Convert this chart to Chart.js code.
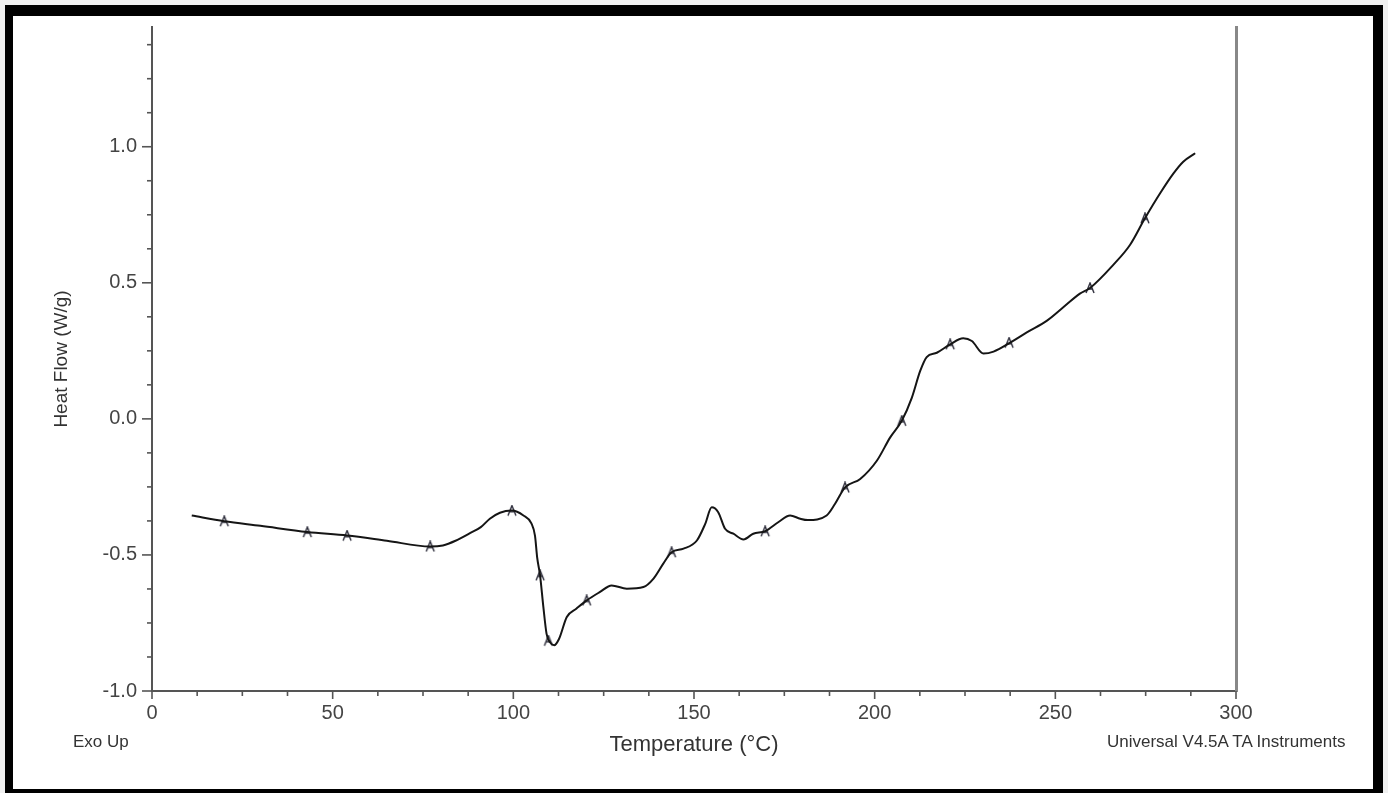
<!DOCTYPE html>
<html>
<head>
<meta charset="utf-8">
<title>DSC Heat Flow</title>
<script src="https://cdn.jsdelivr.net/npm/chart.js@4.4.0/dist/chart.umd.min.js"></script>
<style>
  html, body { margin: 0; padding: 0; background: #fff; }
  #wrap { position: relative; width: 1388px; height: 793px; overflow: hidden; background: #f0f0f0; }
  #frame { position: absolute; left: 5px; top: 5px; width: 1378px; height: 790px; box-sizing: border-box;
           border-style: solid; border-color: #000; border-width: 11px 10px 6px 8px; background: #fff; }
  #chart { position: absolute; left: 0; top: 0; }
  .note { position: absolute; font-family: "Liberation Sans", Arial, sans-serif; font-size: 17px;
          line-height: 17px; color: #333; white-space: nowrap; }
</style>
</head>
<body>
<div id="wrap">
  <div id="frame"></div>
  <canvas id="chart" width="1388" height="793"></canvas>
  <div class="note" style="left:73px; top:733px;">Exo Up</div>
  <div class="note" style="left:1107px; top:733px;">Universal V4.5A TA Instruments</div>
</div>
<script>
// heat flow curve
var temps = [11, 20, 30, 43, 54, 65, 77, 80.5, 84, 88, 91, 93.5, 96.3, 99.6, 102.8, 105, 106, 106.6, 107.4, 108.3,
  109.2, 110.2, 111.3, 112.6, 114.8, 117.5, 120.3, 124, 127.2, 131.4, 136, 138.8, 141.5, 143.8, 147.1, 150.8,
  153.1, 154.9, 156.7, 158.6, 160.9, 163.7, 166.4, 169.7, 173.3, 176.6, 179.4, 181.5, 186.7, 189, 191.8, 196,
  200.6, 204.3, 207.5, 210.3, 212.6, 214.4, 217.2, 220.9, 224.5, 226.9, 230.1, 232.9, 237.5, 242.1, 247.6,
  252.2, 256.8, 259.6, 266.1, 270.7, 274.8, 279, 282.7, 285.4, 288.7];
var heatFlow = [-0.355, -0.376, -0.393, -0.416, -0.429, -0.448, -0.469, -0.465, -0.448, -0.42, -0.398, -0.367,
  -0.345, -0.337, -0.355, -0.384, -0.43, -0.51, -0.575, -0.69, -0.79, -0.822, -0.832, -0.81, -0.728, -0.697,
  -0.667, -0.636, -0.612, -0.624, -0.618, -0.587, -0.532, -0.49, -0.477, -0.447, -0.386, -0.325, -0.343,
  -0.404, -0.422, -0.443, -0.422, -0.413, -0.38, -0.355, -0.367, -0.372, -0.355, -0.313, -0.252, -0.221,
  -0.154, -0.068, -0.007, 0.078, 0.176, 0.227, 0.243, 0.274, 0.296, 0.286, 0.24, 0.247, 0.28, 0.318, 0.36,
  0.41, 0.46, 0.481, 0.567, 0.64, 0.737, 0.829, 0.902, 0.945, 0.976];

// the little marks sitting on the curve
var markTemps = [20, 43, 54, 77, 99.6, 107.4, 109.7, 120.3, 143.8, 169.7, 191.8, 207.5, 220.9, 237.2, 259.6, 274.8];
var markHeat = [-0.376, -0.416, -0.429, -0.469, -0.337, -0.575, -0.815, -0.667, -0.49, -0.413, -0.252, -0.007,
  0.274, 0.28, 0.481, 0.737];

var xTicks = [0, 50, 100, 150, 200, 250, 300];
var yTicks = [-1.0, -0.5, 0.0, 0.5, 1.0];

function toPoints(xs, ys) {
  return xs.map(function(x, i) { return { x: x, y: ys[i] }; });
}

function makeMarker() {
  var c = document.createElement('canvas');
  c.width = 12; c.height = 12;
  var g = c.getContext('2d');
  g.strokeStyle = '#2a2a38';
  g.lineWidth = 1.4;
  g.beginPath();
  g.moveTo(2, 11); g.lineTo(6, 1); g.lineTo(10, 11);
  g.moveTo(3.6, 7); g.lineTo(8.4, 7);
  g.stroke();
  return c;
}

var tickMarks = {
  id: 'tickMarks',
  afterDraw: function(chart) {
    var ctx = chart.ctx, xs = chart.scales.x, ys = chart.scales.y, area = chart.chartArea;
    ctx.save();
    ctx.strokeStyle = '#555';
    ctx.lineWidth = 1.6;
    ys.ticks.forEach(function(t) {
      var py = ys.getPixelForValue(t.value);
      var len = yTicks.indexOf(t.value) >= 0 ? 10 : 5;
      ctx.beginPath(); ctx.moveTo(area.left - len, py); ctx.lineTo(area.left, py); ctx.stroke();
    });
    xs.ticks.forEach(function(t) {
      var px = xs.getPixelForValue(t.value);
      var len = xTicks.indexOf(t.value) >= 0 ? 8 : 5;
      ctx.beginPath(); ctx.moveTo(px, area.bottom); ctx.lineTo(px, area.bottom + len); ctx.stroke();
    });
    ctx.restore();
  }
};

var tickFont = { family: '"Liberation Sans", Arial, sans-serif', size: 20 };

new Chart(document.getElementById('chart'), {
  type: 'line',
  data: {
    datasets: [
      {
        label: 'Heat Flow',
        data: toPoints(temps, heatFlow),
        borderColor: '#151515',
        borderWidth: 2,
        pointRadius: 0,
        cubicInterpolationMode: 'monotone',
        fill: false
      },
      {
        label: 'marks',
        data: toPoints(markTemps, markHeat),
        showLine: false,
        pointStyle: makeMarker(),
        pointRadius: 6
      }
    ]
  },
  options: {
    responsive: false,
    animation: false,
    layout: { padding: { left: 0, top: 25, right: 152, bottom: 0 } },
    plugins: {
      legend: { display: false },
      tooltip: { enabled: false }
    },
    scales: {
      x: {
        type: 'linear',
        min: 0,
        max: 300,
        afterFit: function(s) { s.height = 102; },
        grid: { display: false, drawTicks: false },
        border: { display: true, color: '#555', width: 2 },
        ticks: {
          stepSize: 12.5,
          autoSkip: false,
          maxRotation: 0,
          padding: 10,
          color: '#444',
          font: tickFont,
          callback: function(v) { return xTicks.indexOf(v) >= 0 ? String(v) : ''; }
        },
        title: {
          display: true,
          text: 'Temperature (°C)',
          color: '#333',
          font: { family: '"Liberation Sans", Arial, sans-serif', size: 22 },
          padding: { top: 0, bottom: 35 }
        }
      },
      y: {
        min: -1.0,
        max: 1.44,
        afterFit: function(s) { s.width = 152; },
        grid: { display: false, drawTicks: false },
        border: { display: true, color: '#555', width: 2 },
        ticks: {
          stepSize: 0.125,
          includeBounds: false,
          autoSkip: false,
          padding: 15,
          color: '#444',
          font: tickFont,
          callback: function(v) { return yTicks.indexOf(v) >= 0 ? v.toFixed(1) : ''; }
        },
        title: {
          display: true,
          text: 'Heat Flow (W/g)',
          color: '#333',
          font: { family: '"Liberation Sans", Arial, sans-serif', size: 19 },
          padding: { top: 50, bottom: 0 }
        }
      },
      y2: {
        position: 'right',
        min: -1.0,
        max: 1.44,
        afterFit: function(s) { s.width = 0; },
        grid: { display: false, drawTicks: false },
        border: { display: true, color: '#888', width: 3 },
        ticks: { display: false }
      }
    }
  },
  plugins: [tickMarks]
});
</script>
</body>
</html>
